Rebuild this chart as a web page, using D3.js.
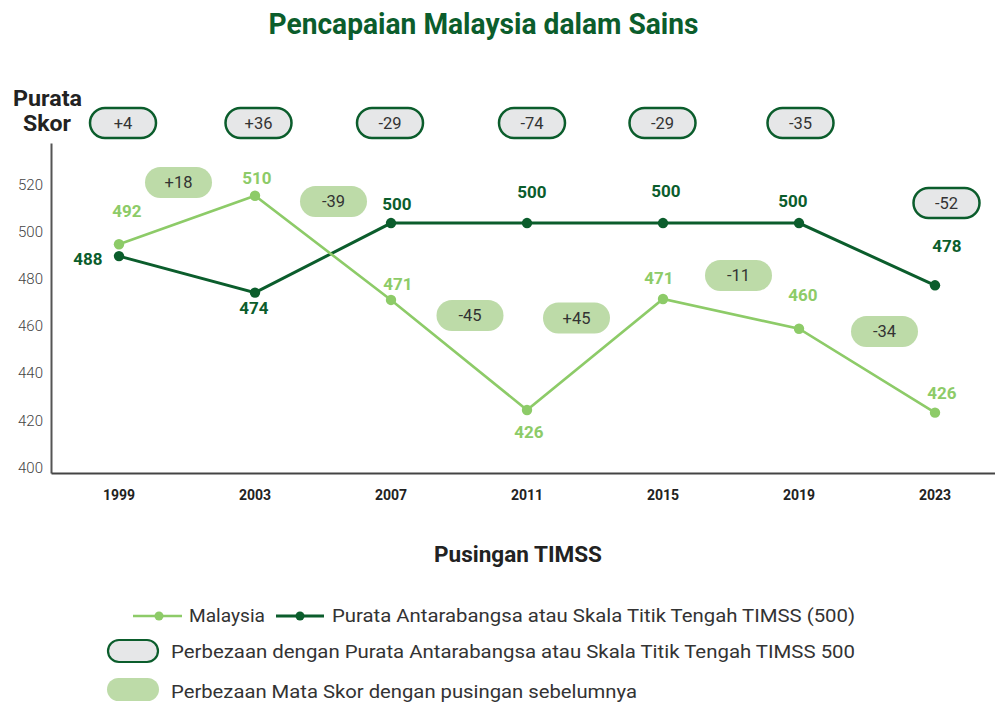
<!DOCTYPE html>
<html>
<head>
<meta charset="utf-8">
<script src="https://cdn.jsdelivr.net/npm/d3@7"></script>
<style>
  html, body { margin: 0; padding: 0; background: #fff; }
  svg { display: block; font-family: Roboto, "Noto Sans", sans-serif; }
</style>
</head>
<body>
<svg id="chart" width="995" height="705"></svg>
<script>
// ---------- DATA ----------
const years = ["1999", "2003", "2007", "2011", "2015", "2019", "2023"];
// plotted positions
const malaysiaValues = [497, 517.6, 473.4, 426.7, 473.8, 461.2, 425.6];
const intlValues     = [492, 476.5, 506, 506, 506, 506, 479.6];
// printed value labels
const malaysiaLabels = ["492", "510", "471", "426", "471", "460", "426"];
const intlLabels     = ["488", "474", "500", "500", "500", "500", "478"];
// differences
const diffIntl = ["+4", "+36", "-29", "-74", "-29", "-35", "-52"];
const diffPrev = ["+18", "-39", "-45", "+45", "-11", "-34"];
const yTicks = [400, 420, 440, 460, 480, 500, 520];

// ---------- LAYOUT (label placement, pixels) ----------
const malLabelOff  = [[8,-33.6],[2,-17.7],[7,-16],[2,21.7],[-4,-21],[4,-33.7],[7,-19.6]];
const intlLabelOff = [[-31,3],[-1,15.4],[6,-19],[5,-31.3],[3,-32],[-6,-22.3],[12,-39.3]];
const diffIntlPos  = [[4,123],[3.5,123],[-1,123],[5,123],[-0.5,123],[1.5,123],[11.5,203]];
const diffPrevPos  = [[-8.5,182.5],[10.5,201.5],[11,315.5],[-18.5,318],[7.5,275.5],[17.5,331.5]];

const C = {
  dark: "#0b5d2c",
  light: "#8dcb68",
  pillGreen: "#bddba8",
  pillGrey: "#e6e7e8",
  text: "#333333",
  axis: "#555555"
};

const svg = d3.select("#chart");

const x = d3.scaleBand().domain(years).range([51, 1003]);
const y = d3.scaleLinear().domain([400, 540]).range([473, 142.9]);
const cx = d => x(d) + x.bandwidth() / 2;

// Title
svg.append("text")
  .attr("x", 483.5).attr("y", 34)
  .attr("text-anchor", "middle")
  .attr("font-size", 29).attr("font-weight", 700)
  .attr("fill", C.dark)
  .attr("textLength", 430).attr("lengthAdjust", "spacingAndGlyphs")
  .text("Pencapaian Malaysia dalam Sains");

// Y axis title
svg.append("text").attr("x", 47.5).attr("y", 105.5)
  .attr("text-anchor", "middle").attr("font-size", 22).attr("font-weight", 700)
  .attr("fill", "#222").attr("textLength", 69).attr("lengthAdjust", "spacingAndGlyphs")
  .text("Purata");
svg.append("text").attr("x", 47).attr("y", 131)
  .attr("text-anchor", "middle").attr("font-size", 22).attr("font-weight", 700)
  .attr("fill", "#222").attr("textLength", 48).attr("lengthAdjust", "spacingAndGlyphs")
  .text("Skor");

// Y axis
const yAxis = svg.append("g").attr("transform", "translate(51,0)")
  .call(d3.axisLeft(y).tickValues(yTicks).tickSize(0).tickPadding(8));
yAxis.select(".domain").attr("stroke", C.axis).attr("stroke-width", 2);
yAxis.selectAll("text")
  .attr("font-family", "Roboto, sans-serif")
  .attr("font-size", 15).attr("font-weight", 300).attr("fill", "#444")
  .attr("dy", "-0.05em");

// X axis
const xAxis = svg.append("g").attr("transform", "translate(0,473)")
  .call(d3.axisBottom(x).tickSize(0).tickPadding(0));
xAxis.select(".domain").attr("stroke", "#444").attr("stroke-width", 2);
xAxis.selectAll("text")
  .attr("font-family", "Roboto, sans-serif")
  .attr("font-size", 14).attr("font-weight", 700).attr("fill", "#222")
  .attr("y", 27).attr("dy", 0);

// X axis title
svg.append("text").attr("x", 518).attr("y", 561.5)
  .attr("text-anchor", "middle").attr("font-size", 22).attr("font-weight", 700)
  .attr("fill", "#222").attr("textLength", 168).attr("lengthAdjust", "spacingAndGlyphs")
  .text("Pusingan TIMSS");

// Lines
const line = d3.line().x(d => cx(d.year)).y(d => y(d.value));
const intlData = years.map((yr, i) => ({year: yr, value: intlValues[i]}));
const malData  = years.map((yr, i) => ({year: yr, value: malaysiaValues[i]}));

svg.append("path").datum(intlData).attr("d", line)
  .attr("fill", "none").attr("stroke", C.dark).attr("stroke-width", 3);
svg.append("path").datum(malData).attr("d", line)
  .attr("fill", "none").attr("stroke", C.light).attr("stroke-width", 2.6);

svg.append("g").selectAll("circle").data(intlData).join("circle")
  .attr("cx", d => cx(d.year)).attr("cy", d => y(d.value)).attr("r", 5.2).attr("fill", C.dark);
svg.append("g").selectAll("circle").data(malData).join("circle")
  .attr("cx", d => cx(d.year)).attr("cy", d => y(d.value)).attr("r", 5.2).attr("fill", C.light);

// Value labels
svg.append("g").selectAll("text").data(malData).join("text")
  .attr("x", (d, i) => cx(d.year) + malLabelOff[i][0])
  .attr("y", (d, i) => y(d.value) + malLabelOff[i][1])
  .attr("dy", "0.36em")
  .attr("text-anchor", "middle").attr("font-size", 17).attr("font-weight", 700)
  .attr("fill", C.light)
  .text((d, i) => malaysiaLabels[i]);
svg.append("g").selectAll("text").data(intlData).join("text")
  .attr("x", (d, i) => cx(d.year) + intlLabelOff[i][0])
  .attr("y", (d, i) => y(d.value) + intlLabelOff[i][1])
  .attr("dy", "0.36em")
  .attr("text-anchor", "middle").attr("font-size", 17).attr("font-weight", 700)
  .attr("fill", C.dark)
  .text((d, i) => intlLabels[i]);

// Pills: difference with international average
const pw = 66, ph = 30;
const gI = svg.append("g").selectAll("g").data(diffIntl).join("g")
  .attr("transform", (d, i) => `translate(${cx(years[i]) + diffIntlPos[i][0]},${diffIntlPos[i][1]})`);
gI.append("rect").attr("x", -pw/2).attr("y", -ph/2).attr("width", pw).attr("height", ph)
  .attr("rx", ph/2).attr("fill", C.pillGrey).attr("stroke", C.dark).attr("stroke-width", 2.5);
gI.append("text").attr("text-anchor", "middle").attr("dy", "0.36em")
  .attr("font-size", 16.5).attr("font-weight", 400).attr("fill", C.text).text(d => d);

// Pills: difference vs previous cycle
const gw = 67, gh = 31;
const gP = svg.append("g").selectAll("g").data(diffPrev).join("g")
  .attr("transform", (d, i) => `translate(${x(years[i + 1]) + diffPrevPos[i][0]},${diffPrevPos[i][1]})`);
gP.append("rect").attr("x", -gw/2).attr("y", -gh/2).attr("width", gw).attr("height", gh)
  .attr("rx", gh/2).attr("fill", C.pillGreen);
gP.append("text").attr("text-anchor", "middle").attr("dy", "0.36em")
  .attr("font-size", 16.5).attr("font-weight", 400).attr("fill", C.text).text(d => d);

// Legend
const lg = svg.append("g");
// row 1
lg.append("line").attr("x1", 133).attr("x2", 182).attr("y1", 616).attr("y2", 616)
  .attr("stroke", C.light).attr("stroke-width", 2.6);
lg.append("circle").attr("cx", 159).attr("cy", 616).attr("r", 4.5).attr("fill", C.light);
lg.append("text").attr("x", 189).attr("y", 622).attr("font-size", 17.5).attr("fill", C.text)
  .attr("textLength", 76).attr("lengthAdjust", "spacingAndGlyphs").text("Malaysia");
lg.append("line").attr("x1", 276).attr("x2", 324).attr("y1", 616).attr("y2", 616)
  .attr("stroke", C.dark).attr("stroke-width", 3);
lg.append("circle").attr("cx", 300).attr("cy", 616).attr("r", 4.5).attr("fill", C.dark);
lg.append("text").attr("x", 332).attr("y", 622).attr("font-size", 17.5).attr("fill", C.text)
  .attr("textLength", 523).attr("lengthAdjust", "spacingAndGlyphs")
  .text("Purata Antarabangsa atau Skala Titik Tengah TIMSS (500)");
// row 2
lg.append("rect").attr("x", 108).attr("y", 640).attr("width", 50).attr("height", 22)
  .attr("rx", 11).attr("fill", C.pillGrey).attr("stroke", C.dark).attr("stroke-width", 2.2);
lg.append("text").attr("x", 171).attr("y", 658).attr("font-size", 17.5).attr("fill", C.text)
  .attr("textLength", 684).attr("lengthAdjust", "spacingAndGlyphs")
  .text("Perbezaan dengan Purata Antarabangsa atau Skala Titik Tengah TIMSS 500");
// row 3
lg.append("rect").attr("x", 107).attr("y", 678).attr("width", 52).attr("height", 23)
  .attr("rx", 11.5).attr("fill", C.pillGreen);
lg.append("text").attr("x", 171).attr("y", 698).attr("font-size", 17.5).attr("fill", C.text)
  .attr("textLength", 466).attr("lengthAdjust", "spacingAndGlyphs")
  .text("Perbezaan Mata Skor dengan pusingan sebelumnya");
</script>
</body>
</html>
